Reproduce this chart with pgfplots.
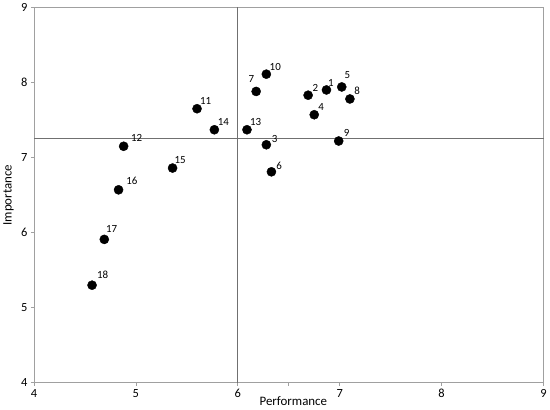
\documentclass[border=0pt]{standalone}
\usepackage{pgfplots}
\pgfplotsset{compat=1.18}
\usepackage{pgfplotstable}
\usepackage{fontspec}
\setmainfont{Carlito}

\definecolor{framegray}{HTML}{A0A0A0}
\definecolor{crossgray}{HTML}{707070}

% x = performance, y = importance, lab = item, dx/dy = label offset (pt)
\pgfplotstableread{
x    y    lab dx   dy
6.87 7.90 1   4.5  7.4
6.69 7.83 2   7.4  7.3
6.28 7.17 3   8.4  5.6
6.75 7.57 4   7.0  8.0
7.02 7.94 5   5.7  12.0
6.33 6.81 6   7.7  6.4
6.18 7.88 7   -4.7 12.3
7.10 7.78 8   7.3  8.7
6.99 7.22 9   8.0  8.0
6.28 8.11 10  9.0  6.8
5.60 7.65 11  8.7  7.7
4.88 7.15 12  13.0 8.3
6.09 7.37 13  8.7  7.7
5.77 7.37 14  9.0  7.6
5.36 6.86 15  7.7  8.0
4.83 6.57 16  13.4 8.7
4.69 5.91 17  7.4  10.3
4.57 5.30 18  10.7 10.3
}\ipadata

\begin{document}
\begin{tikzpicture}
\begin{axis}[
    scale only axis,
    width=513pt, height=378pt,
    xmin=4, xmax=9, ymin=4, ymax=9,
    xtick={4,5,6,6.5,7,8,9},
    xticklabels={4,5,6,,7,8,9},
    ytick={4,5,6,7,8,9},
    tick align=outside,
    xtick pos=bottom, ytick pos=left,
    major tick length=3pt,
    axis line style={framegray, line width=0.9pt},
    tick style={framegray, line width=0.7pt},
    tick label style={font=\fontsize{12.5}{14}\selectfont},
    /pgf/number format/assume math mode=true,
    xlabel={Performance}, ylabel={Importance},
    label style={font=\fontsize{13}{15}\selectfont},
    xlabel style={at={(axis description cs:0.509,-0.05)}, anchor=center},
    ylabel style={at={(axis description cs:-0.05,0.5)}, anchor=center},
    clip=false,
]

\addplot[crossgray, line width=1.3pt, forget plot] coordinates {(6,4) (6,9)};
\addplot[crossgray, line width=0.8pt, forget plot] coordinates {(4,7.25) (9,7.25)};

\addplot[
    only marks, mark=*, mark size=4.6pt, black,
    visualization depends on={\thisrow{dx} \as \labdx},
    visualization depends on={\thisrow{dy} \as \labdy},
    point meta=explicit symbolic,
    nodes near coords,
    nodes near coords style={anchor=center, xshift=\labdx pt, yshift=\labdy pt,
        font=\fontsize{11}{13}\selectfont, text=black, inner sep=0pt},
] table[x=x, y=y, meta=lab] {\ipadata};

\end{axis}
\end{tikzpicture}
\end{document}
